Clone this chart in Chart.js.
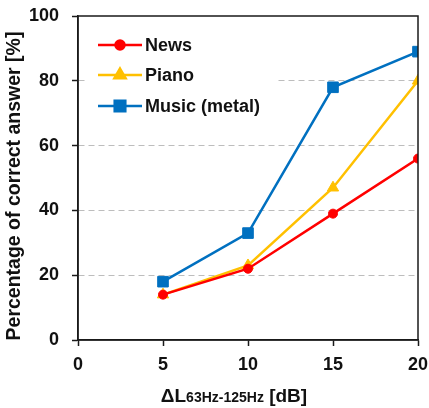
<!DOCTYPE html>
<html><head><meta charset="utf-8">
<script src="https://cdn.jsdelivr.net/npm/chart.js@4.4.1/dist/chart.umd.min.js"></script>
<style>html,body{margin:0;padding:0;background:#fff;overflow:hidden}</style>
</head><body>
<canvas id="c" width="429" height="408" style="width:429px;height:408px;display:block"></canvas>
<script>
const xValues = [5, 10, 15, 20];
const newsValues = [14, 22, 39, 56];
const pianoValues = [14, 23, 47, 80];
const musicValues = [18, 33, 78, 89];
const seriesNames = ['News', 'Piano', 'Music (metal)'];
const seriesColors = ['#FF0000', '#FFC000', '#0070C0'];
const seriesMarkers = ['circle', 'triangle', 'rect'];
const yTitle = 'Percentage of correct answer [%]';
const xTitleMain = 'ΔL';
const xTitleSub = '63Hz-125Hz';
const xTitleUnit = '[dB]';

const FONT = '"Liberation Sans", Arial, sans-serif';
const radii = {circle: 4.5, triangle: 6.5, rect: 7.5};

function mk(name, vals, i) {
  return {
    label: name,
    data: xValues.map((x, k) => ({x: x, y: vals[k]})),
    borderColor: seriesColors[i],
    backgroundColor: seriesColors[i],
    borderWidth: 2.5,
    pointStyle: seriesMarkers[i],
    pointRadius: radii[seriesMarkers[i]],
    pointBorderWidth: 1,
    pointBackgroundColor: seriesColors[i],
    pointBorderColor: seriesColors[i],
    tension: 0
  };
}

function zeroPad(s) { s.paddingTop = 0; s.paddingBottom = 0; s.paddingLeft = 0; s.paddingRight = 0; }

const decor = {
  id: 'decor',
  beforeDatasetsDraw(chart) {
    const ctx = chart.ctx;
    ctx.save();
    ctx.fillStyle = '#fff';
    ctx.fillRect(86, 28, 191, 92);
    ctx.restore();
  },
  afterDraw(chart) {
    const ctx = chart.ctx, a = chart.chartArea;
    ctx.save();
    ctx.strokeStyle = '#1a1a1a';
    ctx.lineWidth = 1.5;
    ctx.strokeRect(a.left, a.top, a.right - a.left, a.bottom - a.top);
    const ys = [45, 75, 106];
    seriesNames.forEach((n, i) => {
      const y = ys[i], c = seriesColors[i];
      ctx.strokeStyle = c; ctx.fillStyle = c; ctx.lineWidth = 2.5;
      ctx.beginPath(); ctx.moveTo(98, y); ctx.lineTo(142, y); ctx.stroke();
      Chart.helpers.drawPoint(ctx, {pointStyle: seriesMarkers[i], radius: radii[seriesMarkers[i]], borderWidth: 1, rotation: 0}, 120, y);
      ctx.fillStyle = '#111';
      ctx.font = 'bold 18px ' + FONT;
      ctx.textBaseline = 'middle';
      ctx.textAlign = 'left';
      ctx.fillText(n, 145, y + 1);
    });
    ctx.save();
    ctx.translate(14.5, 186);
    ctx.rotate(-Math.PI / 2);
    ctx.fillStyle = '#111';
    ctx.font = 'bold 19.5px ' + FONT;
    ctx.textAlign = 'center';
    ctx.textBaseline = 'middle';
    ctx.fillText(yTitle, 0, 0);
    ctx.restore();
    ctx.fillStyle = '#111';
    ctx.textBaseline = 'alphabetic';
    ctx.textAlign = 'left';
    const f1 = 'bold 19px ' + FONT, f2 = 'bold 14px ' + FONT, f3 = 'bold 19px ' + FONT;
    ctx.font = f1; const w1 = ctx.measureText(xTitleMain).width;
    ctx.font = f2; const w2 = ctx.measureText(xTitleSub).width;
    ctx.font = f3; const w3 = ctx.measureText(' ' + xTitleUnit).width;
    let x = 234 - (w1 + w2 + w3) / 2;
    const base = 402;
    ctx.font = f1; ctx.fillText(xTitleMain, x, base); x += w1;
    ctx.font = f2; ctx.fillText(xTitleSub, x, base); x += w2;
    ctx.font = f3; ctx.fillText(' ' + xTitleUnit, x, base);
    ctx.restore();
  }
};

new Chart(document.getElementById('c'), {
  type: 'line',
  data: {
    datasets: [mk(seriesNames[0], newsValues, 0), mk(seriesNames[1], pianoValues, 1), mk(seriesNames[2], musicValues, 2)]
  },
  options: {
    responsive: false,
    animation: false,
    layout: {padding: {left: 0, top: 16, right: 11, bottom: 0}},
    plugins: {legend: {display: false}, tooltip: {enabled: false}},
    scales: {
      x: {
        type: 'linear', min: 0, max: 20,
        ticks: {stepSize: 5, color: '#111', font: {family: FONT, size: 18, weight: 'bold'}, padding: 8, maxRotation: 0},
        grid: {drawOnChartArea: false, drawTicks: true, tickLength: 6, tickColor: '#1a1a1a', tickWidth: 1.5},
        border: {display: true, color: '#1a1a1a', width: 1.5},
        afterFit(s) { s.height = 68; zeroPad(s); }
      },
      y: {
        min: 0, max: 100,
        ticks: {stepSize: 20, color: '#111', font: {family: FONT, size: 18, weight: 'bold'}, padding: 13},
        grid: {
          drawTicks: true, tickLength: 6, tickWidth: 1.5, tickColor: '#1a1a1a',
          color: (c) => (c.tick && c.tick.value > 0 && c.tick.value < 100) ? '#BDBDBD' : 'rgba(0,0,0,0)',
          lineWidth: 1, tickBorderDash: []
        },
        border: {display: true, color: '#1a1a1a', width: 1.5, dash: [6, 4]},
        afterFit(s) { s.width = 78; zeroPad(s); }
      }
    }
  },
  plugins: [decor]
});
</script>
</body></html>
